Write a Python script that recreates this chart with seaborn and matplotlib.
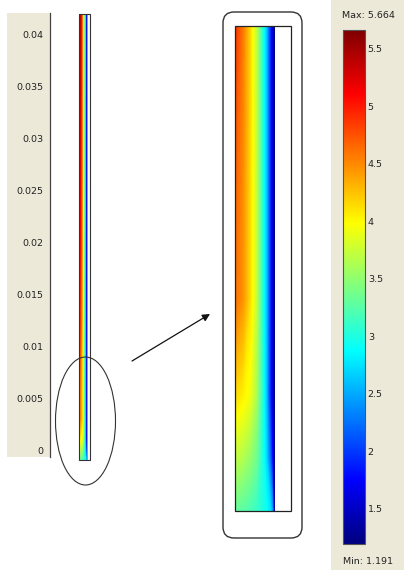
import numpy as np
import matplotlib
matplotlib.use("Agg")
import matplotlib.pyplot as plt
import seaborn as sns
from matplotlib.patches import Rectangle, Ellipse, FancyBboxPatch, FancyArrowPatch
from matplotlib.colors import Normalize, LinearSegmentedColormap
from matplotlib.cm import ScalarMappable

sns.set_style("white")
plt.rcParams["font.family"] = ["DejaVu Sans"]

# ---- field samples: rows = height (m), columns = fraction of the heated layer width
x_frac = [0.0, 0.2, 0.4, 0.55, 0.7, 0.8, 0.9, 0.96, 1.0]
y_m = [-0.001, 0.0, 0.0012, 0.003, 0.005, 0.0085, 0.012, 0.020, 0.030, 0.042]
field = [
    [3.30, 3.25, 3.18, 3.10, 3.00, 2.90, 2.75, 2.40, 1.40],
    [3.70, 3.65, 3.50, 3.35, 3.00, 2.70, 2.20, 1.70, 1.25],
    [4.15, 4.05, 3.90, 3.60, 3.05, 2.60, 1.90, 1.50, 1.24],
    [4.62, 4.45, 4.10, 3.70, 3.05, 2.60, 1.90, 1.50, 1.24],
    [4.68, 4.48, 4.10, 3.70, 3.05, 2.60, 1.90, 1.50, 1.24],
    [4.92, 4.58, 4.12, 3.68, 3.05, 2.60, 1.90, 1.50, 1.24],
    [5.08, 4.75, 4.25, 3.75, 3.08, 2.62, 1.90, 1.50, 1.23],
    [5.30, 4.95, 4.40, 3.85, 3.12, 2.64, 1.90, 1.50, 1.22],
    [5.45, 5.10, 4.50, 3.92, 3.15, 2.66, 1.90, 1.50, 1.21],
    [5.62, 5.25, 4.60, 4.00, 3.20, 2.70, 1.90, 1.50, 1.20],
]
v_min, v_max = 1.191, 5.664

y_ticks = [0, 0.005, 0.01, 0.015, 0.02, 0.025, 0.03, 0.035, 0.04]
y_labels = ["0", "0.005", "0.01", "0.015", "0.02", "0.025", "0.03", "0.035", "0.04"]
cbar_ticks = [1.5, 2, 2.5, 3, 3.5, 4, 4.5, 5, 5.5]
cbar_labels = ["1.5", "2", "2.5", "3", "3.5", "4", "4.5", "5", "5.5"]

# geometry of the strip (m)
strip_w = 0.00106
color_w = 0.00074
strip_bot, strip_top = -0.001, 0.042

W, H = 404, 570
BEIGE = "#ECE9D8"
# classic rainbow map (dark blue -> blue -> cyan -> yellow -> red -> dark red)
cmap = LinearSegmentedColormap.from_list(
    "rainbow_jet",
    [(0.0, (0, 0, 0.5)), (0.125, (0, 0, 1)), (0.375, (0, 1, 1)),
     (0.625, (1, 1, 0)), (0.875, (1, 0, 0)), (1.0, (0.5, 0, 0))], N=512)
levels = np.linspace(v_min, v_max, 300)

fig = plt.figure(figsize=(W / 100, H / 100), dpi=100)
fig.patch.set_facecolor("white")


def px(x0, y0, x1, y1):
    return [x0 / W, 1 - y1 / H, (x1 - x0) / W, (y1 - y0) / H]


# panel backgrounds
for (x0, y0, x1, y1) in [(7, 13, 50, 457), (331, 0, 404, 570)]:
    fig.add_artist(Rectangle((x0 / W, 1 - y1 / H), (x1 - x0) / W, (y1 - y0) / H,
                             transform=fig.transFigure, facecolor=BEIGE,
                             edgecolor="none", zorder=-1))

X = np.array(x_frac) * color_w
Y = np.array(y_m)
Z = np.array(field)

# ---- full-length strip with the height axis
s = 10375.0  # px per metre
ax = fig.add_axes(px(50, 13, 130, 470))
ax.set_facecolor("none")
ax.set_xlim(-29 / s, 51 / s)
ax.set_ylim(-(470 - 450) / s, 0.04 + 22 / s)
ax.contourf(X, Y, Z, levels=levels, cmap=cmap, vmin=v_min, vmax=v_max)
ax.add_patch(Rectangle((color_w, strip_bot), strip_w - color_w, strip_top - strip_bot,
                       facecolor="white", edgecolor="#9a9a9a", lw=0.7))
ax.add_patch(Rectangle((0, strip_bot), strip_w, strip_top - strip_bot,
                       facecolor="none", edgecolor="#333333", lw=0.8))
for sp in ["top", "right", "bottom"]:
    ax.spines[sp].set_visible(False)
ax.spines["left"].set_color("#444444")
ax.spines["left"].set_linewidth(0.9)
ax.spines["left"].set_bounds(-(457 - 450) / s, 0.04 + 22 / s)
ax.set_xticks([])
ax.set_yticks(y_ticks)
ax.set_yticklabels(y_labels)
ax.tick_params(axis="y", length=0, pad=5, labelsize=6.8, colors="#222222")

# ---- magnified bottom section
axz = fig.add_axes(px(235, 26, 291, 511))
axz.contourf(X, Y, Z, levels=levels, cmap=cmap, vmin=v_min, vmax=v_max)
axz.set_xlim(0, strip_w)
axz.set_ylim(strip_bot, strip_bot + 485 / (56 / strip_w))
axz.axis("off")

# ---- colour bar
ax_cb = fig.add_axes(px(343, 30, 365, 544))
cb = fig.colorbar(ScalarMappable(norm=Normalize(v_min, v_max), cmap=cmap), cax=ax_cb)
cb.set_ticks(cbar_ticks)
cb.set_ticklabels(cbar_labels)
cb.outline.set_edgecolor("#555555")
cb.outline.set_linewidth(0.8)
ax_cb.yaxis.set_ticks_position("both")
ax_cb.tick_params(axis="y", direction="in", length=3, width=0.8, color="black",
                  left=True, right=True, labelleft=False, labelright=True,
                  pad=2, labelsize=6.8, labelcolor="#222222")

# ---- annotations in pixel space
ov = fig.add_axes([0, 0, 1, 1], zorder=5)
ov.set_facecolor("none")
ov.set_xlim(0, W)
ov.set_ylim(H, 0)
ov.axis("off")
ov.add_patch(Ellipse((85.5, 421), 60, 128, fill=False, ec="#333333", lw=0.8))
ov.add_patch(FancyBboxPatch((223, 12), 79, 526, boxstyle="round,pad=0,rounding_size=11",
                            fill=False, ec="#333333", lw=1.0))
ov.add_patch(Rectangle((235, 26), 56, 485, fill=False, ec="#222222", lw=0.9))
ov.add_patch(FancyArrowPatch((132, 361), (210, 314), arrowstyle="-|>", mutation_scale=11,
                             lw=0.9, color="#111111", shrinkA=0, shrinkB=0))
ov.text(368, 16, "Max: 5.664", ha="center", va="center", fontsize=6.8, color="#222222")
ov.text(368, 561, "Min: 1.191", ha="center", va="center", fontsize=6.8, color="#222222")

fig.savefig("out.png", dpi=100)
